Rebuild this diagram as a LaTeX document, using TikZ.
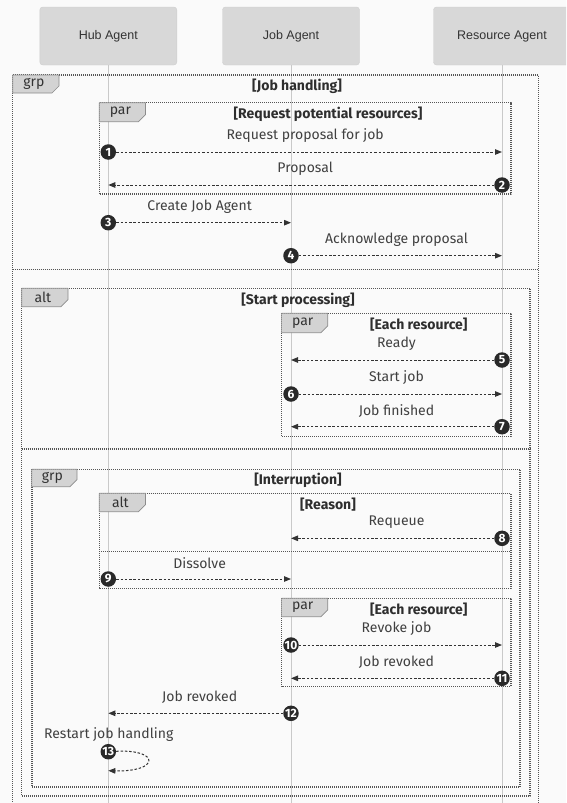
\documentclass[tikz,border=0pt]{standalone}
\usepackage{fontspec}
\setmainfont{Fira Sans}
\newfontfamily\actfont{Liberation Sans}
\usetikzlibrary{arrows.meta,positioning,calc}
\definecolor{ink}{HTML}{333333}
\definecolor{txt}{HTML}{404040}
\definecolor{paper}{HTML}{FAFAFA}
\definecolor{life}{HTML}{C9C9C9}
\definecolor{actcol}{HTML}{D8D8D8}
\definecolor{tabcol}{HTML}{D3D3D3}
\definecolor{frmcol}{HTML}{555555}

% tab of an interaction frame: name, x0, y0, x1, y1, keyword
\newcommand{\optab}[6]{%
  \draw[tab] (#2,#3) -- (#4,#3) -- ({#4},{#5-7}) -- ({#4-7},{#5}) -- (#2,#5) -- cycle;
  \node[tabtxt] (#1) at ({(#2+#4)/2-2},{(#3+#5)/2}) {#6};}

\begin{document}
\begin{tikzpicture}[
  x=1pt, y=-1pt, line join=round,
  actor/.style={draw=actcol!80!black!60, fill=actcol, rounded corners=3pt,
                minimum width=137pt, minimum height=58pt, inner sep=0pt,
                font=\actfont\fontsize{12.5}{15}\selectfont, text=ink},
  lifeln/.style={draw=life, line width=1pt},
  frm/.style={draw=frmcol, line width=1.4pt, dash pattern=on 1.1pt off 0.9pt},
  tab/.style={fill=tabcol, draw=black!45, line width=0.7pt},
  tabtxt/.style={font=\fontsize{14}{16}\selectfont, text=ink, inner sep=0pt},
  ttl/.style={font=\bfseries\fontsize{14}{16}\selectfont, text=ink!90!black, inner sep=0pt},
  lbl/.style={font=\fontsize{14}{16}\selectfont, text=txt, inner sep=0pt},
  num/.style={circle, fill=ink!80!black, text=white, inner sep=0pt,
              minimum size=15.5pt, font=\bfseries\fontsize{12}{13}\selectfont},
  msg/.style={draw=ink, line width=1pt, dash pattern=on 2.5pt off 1.8pt,
              -{Triangle[length=7pt,width=5.5pt]}}]

\def\xh{108.3}    % hub agent
\def\xj{291}      % job agent
\def\xr{502}      % resource agent

\useasboundingbox (0,0) rectangle (566,803);
\clip (0,0) rectangle (566,803);
\fill[paper] (0,0) rectangle (566,803);

% ---------------------------------------------------------------- participants
\node[actor] (hub) at (\xh,36) {Hub Agent};
\node[actor] (job) at (\xj,36) {Job Agent};
\node[actor] (res) at (\xr,36) {Resource Agent};
\draw[lifeln] (hub.south) -- (\xh,803);
\draw[lifeln] (job.south) -- (\xj,803);
\draw[lifeln] (res.south) -- (\xr,803);

% ---------------------------------------------------------------- frames
\draw[frm] (12.7,75) rectangle (538.5,830);
\draw[frm] (12.7,269.5) -- (538.5,269.5);
\optab{tgrp}{12.7}{75}{59}{93}{grp}
\node[ttl] (tjob) at (297,86.5) {[Job handling]};

\draw[frm] (99.3,102.7) rectangle (510.8,194);
\optab{tpar}{99.3}{102.7}{145.5}{121.7}{par}
\node[ttl] (treq) at (328,114) {[Request potential resources]};

\draw[frm] (21.7,288.3) rectangle (530,796);
\draw[frm] (21.7,449) -- (530,449);
\optab{talt}{21.7}{288.3}{68}{306.7}{alt}
\node[ttl] (tstart) at (298,300.7) {[Start processing]};

\draw[frm] (281.6,313.3) rectangle (510.8,436.7);
\optab{tparb}{281.6}{313.3}{327.8}{332.7}{par}
\node[ttl] (teach) at (418.8,325) {[Each resource]};

\draw[frm] (31.8,469.3) rectangle (520,787);
\optab{tgrpb}{31.8}{469.3}{77}{486.7}{grp}
\node[ttl] (tint) at (298,480.7) {[Interruption]};

\draw[frm] (99.3,493.3) rectangle (510.8,588.3);
\draw[frm] (99.3,551.7) -- (510.8,551.7);
\optab{taltb}{99.3}{493.3}{145.5}{511.7}{alt}
\node[ttl] (treas) at (328,505) {[Reason]};

\draw[frm] (281.6,598.3) rectangle (510.8,686.7);
\optab{tparc}{281.6}{598.3}{327.8}{616.7}{par}
\node[ttl] (teachb) at (418.8,610) {[Each resource]};

% ---------------------------------------------------------------- messages
\foreach \i/\a/\b/\y/\t in {
    1/\xh/\xr/152/Request proposal for job,
    2/\xr/\xh/185/Proposal,
    3/\xh/\xj/222.7/Create Job Agent,
    4/\xj/\xr/255.7/Acknowledge proposal,
    5/\xr/\xj/360/Ready,
    6/\xj/\xr/394/Start job,
    7/\xr/\xj/426.7/Job finished,
    8/\xr/\xj/538.3/Requeue,
    9/\xh/\xj/579/Dissolve,
    10/\xj/\xr/645/Revoke job,
    11/\xr/\xj/678.3/Job revoked,
    12/\xj/\xh/713.3/Job revoked}{
  \coordinate (s\i) at (\a,\y);
  \coordinate (e\i) at (\b,\y);
  \node[num] (n\i) at (s\i) {\i};
  \draw[msg] (n\i) -- (e\i);
  \node[lbl] (l\i) at ($(s\i)!0.5!(e\i)+(0,-16)$) {\t};
}

% self message
\node[num] (n13) at (\xh,751.7) {13};
\coordinate (e13) at (\xh,770.7);
\draw[msg] (n13) .. controls (160,749) and (160,772) .. (e13);
\node[lbl] (l13) at (108.7,735) {Restart job handling};

\end{tikzpicture}
\end{document}
